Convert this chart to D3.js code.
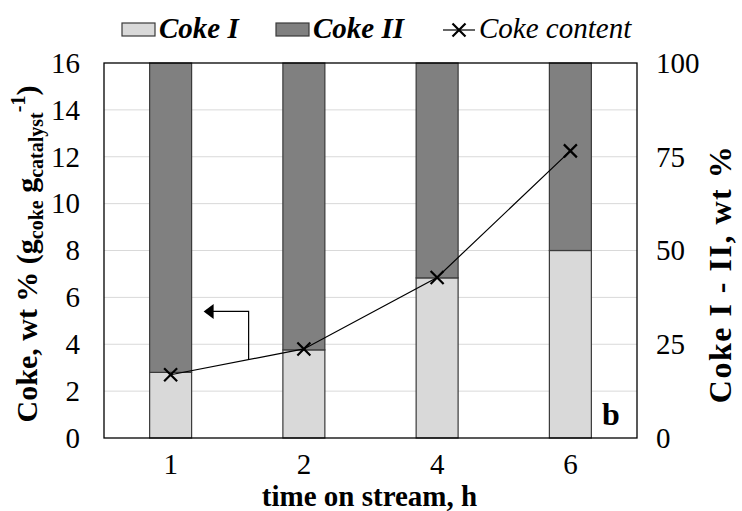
<!DOCTYPE html>
<html>
<head>
<meta charset="utf-8">
<script src="https://cdn.jsdelivr.net/npm/d3@7/dist/d3.min.js"></script>
<style>
  html, body { margin: 0; padding: 0; background: #fff; }
  svg, svg text, svg tspan { font-family: 'Liberation Serif', 'Times New Roman', 'DejaVu Serif', serif; }
</style>
</head>
<body>
<svg id="chart" width="742" height="511" font-family="Liberation Serif, Times New Roman, serif"></svg>
<script>
// Time on stream categories (h)
const categories = ["1", "2", "4", "6"];
// Share of Coke I in total coke (wt %), Coke II is the remainder
const cokeI = [17.5, 23.5, 42.7, 50.0];
const cokeII = cokeI.map(v => 100 - v);
// Total coke content (wt %, g_coke g_catalyst^-1)
const cokeContent = [2.7, 3.8, 6.85, 12.25];
// Axis ticks
const leftTicks = [0, 2, 4, 6, 8, 10, 12, 14, 16];
const rightTicks = [0, 25, 50, 75, 100];

const FONT = "'Liberation Serif', 'Times New Roman', serif";
const svg = d3.select("#chart");
const m = { left: 104, right: 637, top: 63, bottom: 438 };

const x = d3.scaleBand().domain(categories).range([m.left, m.right]).paddingInner(0.685).paddingOuter(0.3425);
const yL = d3.scaleLinear().domain([0, 16]).range([m.bottom, m.top]);
const yR = d3.scaleLinear().domain([0, 100]).range([m.bottom, m.top]);

const colI = "#d9d9d9", colII = "#808080", edge = "#3a3a3a";

// gridlines
svg.append("g").selectAll("line").data(leftTicks.filter(d => d > 0 && d < 16)).join("line")
  .attr("x1", m.left).attr("x2", m.right)
  .attr("y1", d => yL(d)).attr("y2", d => yL(d))
  .attr("stroke", "#d9d9d9").attr("stroke-width", 1);

// stacked bars
const stackData = categories.map((c, i) => ({ cat: c, I: cokeI[i], II: cokeII[i] }));
const series = d3.stack().keys(["I", "II"])(stackData);
svg.append("g").selectAll("g").data(series).join("g")
  .attr("fill", d => d.key === "I" ? colI : colII)
  .selectAll("rect").data(d => d).join("rect")
  .attr("x", d => x(d.data.cat))
  .attr("width", x.bandwidth())
  .attr("y", d => yR(d[1]))
  .attr("height", d => yR(d[0]) - yR(d[1]))
  .attr("stroke", edge).attr("stroke-width", 1.2);

// plot frame
svg.append("rect").attr("x", m.left).attr("y", m.top)
  .attr("width", m.right - m.left).attr("height", m.bottom - m.top)
  .attr("fill", "none").attr("stroke", "#000").attr("stroke-width", 1.3);

// coke content line
const cx = c => x(c) + x.bandwidth() / 2;
const linePts = categories.map((c, i) => [cx(c), yL(cokeContent[i])]);
svg.append("path").attr("d", d3.line()(linePts))
  .attr("fill", "none").attr("stroke", "#000").attr("stroke-width", 1.2);

// x markers
const ms = 6.5;
svg.append("g").selectAll("path").data(linePts).join("path")
  .attr("d", p => `M${p[0]-ms},${p[1]-ms}L${p[0]+ms},${p[1]+ms}M${p[0]-ms},${p[1]+ms}L${p[0]+ms},${p[1]-ms}`)
  .attr("stroke", "#000").attr("stroke-width", 2.2).attr("fill", "none");

// arrow pointing to the left axis
const p0 = linePts[0], p1 = linePts[1];
const arrowX = p0[0] + 78;
const arrowBaseY = p0[1] + (p1[1] - p0[1]) * (arrowX - p0[0]) / (p1[0] - p0[0]);
const arrowY = yL(5.4);
const tipX = p0[0] + 33;
svg.append("path")
  .attr("d", `M${arrowX},${arrowBaseY}V${arrowY}H${tipX + 9}`)
  .attr("fill", "none").attr("stroke", "#000").attr("stroke-width", 1.2);
svg.append("path")
  .attr("d", `M${tipX},${arrowY}L${tipX + 10},${arrowY - 7.5}L${tipX + 10},${arrowY + 7.5}Z`)
  .attr("fill", "#000");

const txt = (sel) => sel.attr("font-family", FONT).attr("fill", "#000");

// left tick labels
svg.append("g").selectAll("text").data(leftTicks).join("text").call(txt)
  .attr("x", 80).attr("y", d => yL(d)).attr("dy", "0.34em")
  .attr("text-anchor", "end").attr("font-size", 29).text(d => d);

// right tick labels
svg.append("g").selectAll("text").data(rightTicks).join("text").call(txt)
  .attr("x", 656).attr("y", d => yR(d)).attr("dy", "0.34em")
  .attr("text-anchor", "start").attr("font-size", 29).text(d => d);

// x tick labels
svg.append("g").selectAll("text").data(categories).join("text").call(txt)
  .attr("x", d => cx(d)).attr("y", 474)
  .attr("text-anchor", "middle").attr("font-size", 29).text(d => d);

// axis titles
svg.append("text").call(txt).attr("x", (m.left + m.right) / 2 - 1).attr("y", 506)
  .attr("text-anchor", "middle").attr("font-size", 29).attr("font-weight", "bold")
  .text("time on stream, h");

const lt = svg.append("text").call(txt)
  .attr("transform", "translate(37,254) rotate(-90)")
  .attr("text-anchor", "middle").attr("font-size", 30).attr("font-weight", "bold");
lt.append("tspan").text("Coke, wt % (g");
lt.append("tspan").attr("font-size", 20).attr("dy", 6).text("coke");
lt.append("tspan").attr("dy", -6).text(" g");
lt.append("tspan").attr("font-size", 20).attr("dy", 6).text("catalyst");
lt.append("tspan").attr("font-size", 20).attr("dy", -18).text("-1");
lt.append("tspan").attr("dy", 12).text(")");

svg.append("text").call(txt)
  .attr("transform", "translate(731,274) rotate(-90)")
  .attr("text-anchor", "middle").attr("font-size", 32).attr("font-weight", "bold")
  .attr("letter-spacing", 1.5)
  .text("Coke I - II, wt %");

// panel letter
svg.append("text").call(txt).attr("x", 602).attr("y", 425)
  .attr("font-size", 32).attr("font-weight", "bold").text("b");

// legend
const lg = svg.append("g");
lg.append("rect").attr("x", 122).attr("y", 23).attr("width", 33).attr("height", 13)
  .attr("fill", colI).attr("stroke", edge).attr("stroke-width", 1.2);
lg.append("text").call(txt).attr("x", 159).attr("y", 38).attr("font-size", 29)
  .attr("font-weight", "bold").attr("font-style", "italic").text("Coke I");
lg.append("rect").attr("x", 276).attr("y", 23).attr("width", 33).attr("height", 13)
  .attr("fill", colII).attr("stroke", edge).attr("stroke-width", 1.2);
lg.append("text").call(txt).attr("x", 313).attr("y", 38).attr("font-size", 29)
  .attr("font-weight", "bold").attr("font-style", "italic").text("Coke II");
lg.append("line").attr("x1", 443).attr("x2", 475).attr("y1", 30).attr("y2", 30)
  .attr("stroke", "#000").attr("stroke-width", 1.2);
lg.append("path")
  .attr("d", `M${459-ms},${30-ms}L${459+ms},${30+ms}M${459-ms},${30+ms}L${459+ms},${30-ms}`)
  .attr("stroke", "#000").attr("stroke-width", 2.2);
lg.append("text").call(txt).attr("x", 479).attr("y", 38).attr("font-size", 29)
  .attr("font-style", "italic").text("Coke content");
</script>
</body>
</html>
